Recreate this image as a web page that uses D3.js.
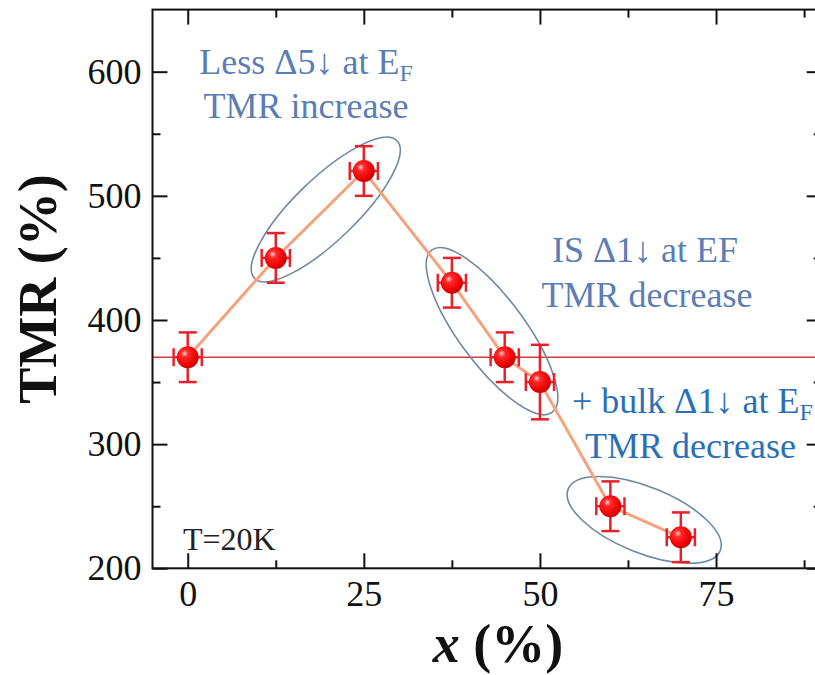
<!DOCTYPE html>
<html>
<head>
<meta charset="utf-8">
<script src="https://cdn.jsdelivr.net/npm/d3@7"></script>
<style>
  html, body { margin: 0; padding: 0; background: #fff; }
  svg { display: block; }
  text { font-family: "Liberation Serif", "Times New Roman", "DejaVu Serif", serif; }
</style>
</head>
<body>
<script>
// ---- data ----
const xVals   = [0, 12.5, 25, 37.5, 45, 50, 60, 70];
const tmrVals = [370, 450, 520, 430, 370, 350, 250, 225];
const yErr    = [20, 20, 20, 20, 20, 30, 20, 20];
const xErr    = [2, 2, 2, 2, 2, 2, 2, 2];
const refTMR  = 370;
const xTicks  = [0, 25, 50, 75];
const xMinor  = [12.5, 37.5, 62.5, 87.5];
const yTicks  = [200, 300, 400, 500, 600];
const yMinor  = [250, 350, 450, 550];

const W = 815, H = 675;
const svg = d3.select("body").append("svg").attr("width", W).attr("height", H);

const x = d3.scaleLinear().domain([-5, 90]).range([152.5, 821.7]);
const y = d3.scaleLinear().domain([200, 650]).range([568.3, 9.6]);

const defs = svg.append("defs");
const grad = defs.append("radialGradient").attr("id", "ball")
  .attr("cx", "40%").attr("cy", "38%").attr("r", "65%").attr("fx", "35%").attr("fy", "32%");
grad.append("stop").attr("offset", "0%").attr("stop-color", "#ffd0d0");
grad.append("stop").attr("offset", "25%").attr("stop-color", "#ff2a2a");
grad.append("stop").attr("offset", "75%").attr("stop-color", "#f00000");
grad.append("stop").attr("offset", "100%").attr("stop-color", "#c00000");

const x0 = x.range()[0], x1 = x.range()[1], y0 = y.range()[0], y1 = y.range()[1];

// reference line
svg.append("line")
  .attr("x1", x0).attr("x2", x1).attr("y1", y(refTMR)).attr("y2", y(refTMR))
  .attr("stroke", "#d83a3a").attr("stroke-width", 1.5);

// ellipses (annotation groupings)
const ellipses = [
  { cx: 19.6, cy: 489, rx: 99, ry: 31, angle: -44 },
  { cx: 43.2, cy: 391, rx: 101, ry: 33, angle: 53.5 },
  { cx: 64.8, cy: 239, rx: 82, ry: 33, angle: 22 }
];
svg.selectAll("ellipse.grp").data(ellipses).join("ellipse")
  .attr("class", "grp")
  .attr("cx", 0).attr("cy", 0)
  .attr("rx", d => d.rx).attr("ry", d => d.ry)
  .attr("transform", d => `translate(${x(d.cx)},${y(d.cy)}) rotate(${d.angle})`)
  .attr("fill", "none").attr("stroke", "#7088a0").attr("stroke-width", 1.6);

// connecting line
const pts = xVals.map((v, i) => ({ x: v, y: tmrVals[i], ey: yErr[i], ex: xErr[i] }));
svg.append("path")
  .datum(pts)
  .attr("d", d3.line().x(d => x(d.x)).y(d => y(d.y)))
  .attr("fill", "none").attr("stroke", "#f4a37c").attr("stroke-width", 3);

// error bars
const eb = svg.append("g").attr("stroke", "#e8202a").attr("stroke-width", 2.5).attr("fill", "none");
const cap = 9;
pts.forEach(d => {
  const cx = x(d.x), cy = y(d.y);
  eb.append("line").attr("x1", cx).attr("x2", cx).attr("y1", y(d.y + d.ey)).attr("y2", y(d.y - d.ey));
  eb.append("line").attr("x1", cx - cap).attr("x2", cx + cap).attr("y1", y(d.y + d.ey)).attr("y2", y(d.y + d.ey));
  eb.append("line").attr("x1", cx - cap).attr("x2", cx + cap).attr("y1", y(d.y - d.ey)).attr("y2", y(d.y - d.ey));
  eb.append("line").attr("x1", x(d.x - d.ex)).attr("x2", x(d.x + d.ex)).attr("y1", cy).attr("y2", cy);
  eb.append("line").attr("x1", x(d.x - d.ex)).attr("x2", x(d.x - d.ex)).attr("y1", cy - cap).attr("y2", cy + cap);
  eb.append("line").attr("x1", x(d.x + d.ex)).attr("x2", x(d.x + d.ex)).attr("y1", cy - cap).attr("y2", cy + cap);
});

// markers
svg.selectAll("circle.pt").data(pts).join("circle")
  .attr("class", "pt")
  .attr("cx", d => x(d.x)).attr("cy", d => y(d.y)).attr("r", 11)
  .attr("fill", "url(#ball)");

// axes frame
const axisG = svg.append("g");
axisG.append("rect").attr("x", x0).attr("y", y1).attr("width", x1 - x0).attr("height", y0 - y1)
  .attr("fill", "none").attr("stroke", "#111").attr("stroke-width", 2);

const fmt = d3.format("d");
function tickAxis(axisFn, scale, ticks, size, transform, labels) {
  const a = axisFn(scale).tickValues(ticks).tickSize(size).tickPadding(12).tickSizeOuter(0);
  if (!labels) a.tickFormat("");
  else a.tickFormat(fmt);
  const g = axisG.append("g").attr("transform", transform).call(a);
  g.select(".domain").remove();
  g.selectAll(".tick line").attr("stroke", "#111").attr("stroke-width", 2);
  return g;
}
// bottom (ticks inward -> negative size)
const gb = tickAxis(d3.axisBottom, x, xTicks, -15, `translate(0,${y0})`, true);
gb.selectAll(".tick text").attr("y", 12).attr("dy", "0.71em");
tickAxis(d3.axisBottom, x, xMinor, -8, `translate(0,${y0})`, false);
// top
tickAxis(d3.axisTop, x, xTicks, -15, `translate(0,${y1})`, false);
tickAxis(d3.axisTop, x, xMinor, -8, `translate(0,${y1})`, false);
// left
const gl = tickAxis(d3.axisLeft, y, yTicks, -15, `translate(${x0},0)`, true);
gl.selectAll(".tick text").attr("x", -11);
tickAxis(d3.axisLeft, y, yMinor, -8, `translate(${x0},0)`, false);
// right
tickAxis(d3.axisRight, y, yTicks, -15, `translate(${x1},0)`, false);
tickAxis(d3.axisRight, y, yMinor, -8, `translate(${x1},0)`, false);

axisG.selectAll(".tick text")
  .attr("font-family", '"Liberation Serif", "Times New Roman", serif')
  .attr("font-size", 36).attr("fill", "#111");

// axis titles
svg.append("text")
  .attr("transform", `translate(56,${(y0 + y1) / 2 + 0}) rotate(-90)`)
  .attr("text-anchor", "middle")
  .attr("font-size", 54).attr("font-weight", "bold").attr("fill", "#111")
  .text("TMR (%)");

const xt = svg.append("text")
  .attr("x", 498).attr("y", 662).attr("text-anchor", "middle")
  .attr("font-size", 54).attr("font-weight", "bold").attr("fill", "#111");
xt.append("tspan").attr("font-style", "italic").text("x");
xt.append("tspan").text(" (%)");

// annotations
function annot(xp, yp, anchor, color, parts) {
  const t = svg.append("text").attr("x", xp).attr("y", yp).attr("text-anchor", anchor)
    .attr("font-size", 36).attr("fill", color);
  parts.forEach(p => {
    const s = t.append("tspan").text(p.t);
    if (p.sub) s.attr("font-size", 24).attr("dy", 7);
  });
  return t;
}
annot(306, 74, "middle", "#5b7db5", [{ t: "Less Δ5↓ at E" }, { t: "F", sub: true }]);
annot(306, 118, "middle", "#5b7db5", [{ t: "TMR increase" }]);
annot(645, 262, "middle", "#5b7db5", [{ t: "IS Δ1↓ at EF" }]);
annot(647, 307, "middle", "#5b7db5", [{ t: "TMR decrease" }]);
annot(572, 413, "start", "#2a6fb8", [{ t: "+ bulk Δ1↓ at E" }, { t: "F", sub: true }]);
annot(585, 458, "start", "#2a6fb8", [{ t: "TMR decrease" }]);

svg.append("text").attr("x", 183).attr("y", 550).attr("font-size", 32).attr("fill", "#222").text("T=20K");
</script>
</body>
</html>
